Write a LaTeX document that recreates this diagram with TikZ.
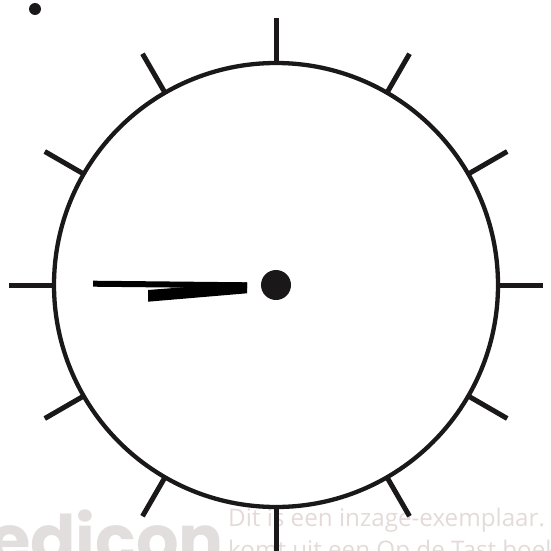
\documentclass[tikz,border=0pt]{standalone}
\usepackage{fontspec}
\usetikzlibrary{calc}
\setmainfont{Open Sans}
\newfontfamily\wmfont{Poppins}
\definecolor{wmgray}{RGB}{226,222,222}
\definecolor{wmpink}{RGB}{228,218,216}
\definecolor{ink}{RGB}{26,24,24}
\begin{document}
\begin{tikzpicture}[x=1pt,y=-1pt,
  rim/.style={draw=ink,line width=4.3pt},
  tickmark/.style={draw=ink,line width=5pt},
  handfill/.style={fill=black}]
\useasboundingbox (0,0) rectangle (550,551);
% watermark texts
\node[anchor=base west,inner sep=0pt,text=wmgray,font=\wmfont\bfseries\fontsize{67}{67}\selectfont] (wm) at (-11,563) {edicon};
\node[anchor=base west,inner sep=0pt,text=wmpink,font=\fontsize{24.2}{24.2}\selectfont] (wm1) at (228,526) {Dit is een inzage-exemplaar.};
\node[anchor=base west,inner sep=0pt,text=wmpink,font=\fontsize{24.2}{24.2}\selectfont] (wm2) at (228,558) {komt uit een Op de Tast boek};
% clock
\coordinate (c) at (276,285);
\draw[rim] (c) circle[radius=222];
\foreach \a in {0,30,...,330}
  \draw[tickmark] ($(c)+(\a:222)$) -- ($(c)+(\a:267)$);
% hands
\fill[handfill] (93,280.7) -- (247,282.3) -- (247,288.3) -- (93,286.7) -- cycle;
\fill[handfill] (148,290) -- (247,282.3) -- (247,293.3) -- (148,301.7) -- cycle;
\fill[ink] (c) circle[radius=15];
% small dot top left
\fill[ink] (35,9) circle[radius=6];
\end{tikzpicture}
\end{document}
